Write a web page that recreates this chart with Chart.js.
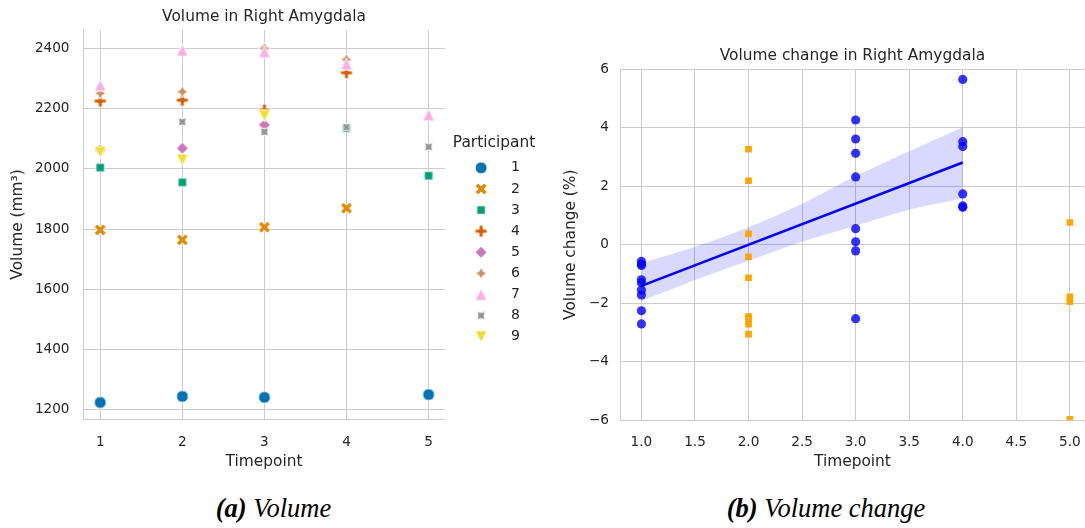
<!DOCTYPE html>
<html lang="en">
<head>
  <meta charset="UTF-8">
  <script src="https://cdn.jsdelivr.net/npm/chart.js"></script>
  <title>Right Amygdala</title>
  <style>
    body { margin: 0; background: #fff; width: 1085px; height: 528px; position: relative; overflow: hidden; }
    #volChart { position: absolute; left: 0; top: 0; }
    #changeChart { position: absolute; left: 545px; top: 0; }
    .caption { position: absolute; top: 495px; width: 400px; text-align: center;
      font-family: "Liberation Serif", "Times New Roman", serif; font-style: italic;
      font-size: 26.5px; line-height: 26px; color: #000; }
  </style>
</head>
<body>

  <canvas id="volChart" width="545" height="480"></canvas>
  <canvas id="changeChart" width="550" height="480"></canvas>
  <div class="caption" style="left:73.5px"><b>(a)</b> Volume</div>
  <div class="caption" style="left:626px"><b>(b)</b> Volume change</div>

  <script>
    // ---- (a) volume per participant, null = no scan at that timepoint
    const timepoints = [1, 2, 3, 4, 5];
    const participants = ['1', '2', '3', '4', '5', '6', '7', '8', '9'];
    const volP1 = [1224, 1244, 1241, null, 1250];
    const volP2 = [1797, 1764, 1806, 1869, null];
    const volP3 = [2004, 1955, null, 2135, 1977];
    const volP4 = [2225, 2228, 2195, 2319, null];
    const volP5 = [2063, 2068, 2146, null, null];
    const volP6 = [2251, 2256, 2400, 2363, null];
    const volP7 = [2278, 2394, 2389, 2348, 2179];
    const volP8 = [null, 2156, 2123, 2138, 2073];
    const volP9 = [2055, 2029, 2176, null, null];
    const volTicksX = [1, 2, 3, 4, 5];
    const volTicksY = [1200, 1400, 1600, 1800, 2000, 2200, 2400];

    // ---- (b) volume change (%)
    const blueT1 = [-0.57, -0.66, -0.71, -1.2, -1.3, -1.55, -1.72, -2.26, -2.71];
    const blueT3 = [4.27, 3.62, 3.13, 2.32, 0.55, 0.10, -0.21, -2.53];
    const blueT4 = [5.66, 3.53, 3.36, 1.74, 1.33, 1.28];
    const orangeT2 = [3.27, 2.19, 0.37, -0.41, -1.13, -2.46, -2.55, -2.72, -3.06];
    const orangeT5 = [0.76, -1.78, -1.95, -5.98];
    const ciX = [1, 1.5, 2, 2.5, 3, 3.5, 4];
    const ciUpper = [-0.63, -0.07, 0.6, 1.4, 2.35, 3.2, 4.02];
    const ciLower = [-1.93, -1.21, -0.55, 0.1, 0.65, 1.2, 1.58];
    const changeTicksX = [1, 1.5, 2, 2.5, 3, 3.5, 4, 4.5, 5];
    const changeTicksY = [-6, -4, -2, 0, 2, 4, 6];

    const ink = '#262626';
    const gridCol = '#cccccc';
    const labelFont = { family: 'DejaVu Sans', size: 15.4 };
    const tickFont = { family: 'DejaVu Sans', size: 13.6 };
    const palette = ['#0173b2', '#de8f05', '#029e73', '#d55e00', '#cc78bc', '#ca9161', '#fbafe4', '#949494', '#ece133'];

    // seaborn style markers drawn to small canvases
    function star4(start) {
      const pts = [];
      for (let k = 0; k < 8; k++) {
        const a = (start + k * 45) * Math.PI / 180;
        const rr = k % 2 ? 0.5 : 1;
        pts.push([rr * Math.cos(a), rr * Math.sin(a)]);
      }
      return pts;
    }
    const shapes = {
      X: [[-0.5, -1], [0, -0.5], [0.5, -1], [1, -0.5], [0.5, 0], [1, 0.5], [0.5, 1], [0, 0.5], [-0.5, 1], [-1, 0.5], [-0.5, 0], [-1, -0.5]],
      square: [[-0.707, -0.707], [0.707, -0.707], [0.707, 0.707], [-0.707, 0.707]],
      plus: [[-1/3, -1], [1/3, -1], [1/3, -1/3], [1, -1/3], [1, 1/3], [1/3, 1/3], [1/3, 1], [-1/3, 1], [-1/3, 1/3], [-1, 1/3], [-1, -1/3], [-1/3, -1/3]],
      diamond: [[0, -1], [1, 0], [0, 1], [-1, 0]],
      star: star4(-90),
      up: [[0, -1], [1, 1], [-1, 1]],
      starRot: star4(-45),
      down: [[0, 1], [1, -1], [-1, -1]]
    };
    const markerNames = ['circle', 'X', 'square', 'plus', 'diamond', 'star', 'up', 'starRot', 'down'];

    function makeMarker(shape, color) {
      const r = 6, size = 16;
      const c = document.createElement('canvas');
      c.width = size; c.height = size;
      const ctx = c.getContext('2d');
      ctx.translate(size / 2, size / 2);
      ctx.beginPath();
      if (shape === 'circle') {
        ctx.arc(0, 0, r, 0, Math.PI * 2);
      } else {
        shapes[shape].forEach(([x, y], i) => i ? ctx.lineTo(x * r, y * r) : ctx.moveTo(x * r, y * r));
        ctx.closePath();
      }
      ctx.fillStyle = color;
      ctx.fill();
      ctx.strokeStyle = '#ffffff';
      ctx.lineWidth = 1;
      ctx.stroke();
      return c;
    }

    function toPoints(xs, ys) {
      const out = [];
      xs.forEach((x, i) => { if (ys[i] !== null) out.push({ x: x, y: ys[i] }); });
      return out;
    }
    function atX(x, ys) { return ys.map(y => ({ x: x, y: y })); }

    const volumes = [volP1, volP2, volP3, volP4, volP5, volP6, volP7, volP8, volP9];

    new Chart(document.getElementById('volChart'), {
      type: 'scatter',
      data: {
        datasets: participants.map((p, i) => ({
          label: p,
          data: toPoints(timepoints, volumes[i]),
          pointStyle: makeMarker(markerNames[i], palette[i]),
          pointRadius: 6,
          pointHoverRadius: 6,
          order: participants.length - i   // later participants on top
        }))
      },
      options: {
        responsive: false,
        animation: false,
        layout: { padding: { right: 8 } },
        plugins: {
          title: {
            display: true, text: 'Volume in Right Amygdala', fullSize: false,
            font: { family: 'DejaVu Sans', size: 15.4, weight: 'normal' }, color: ink,
            padding: { top: 7.8, bottom: 3.7 }
          },
          legend: {
            position: 'right',
            align: 'center',
            title: { display: true, text: 'Participant', color: ink, font: labelFont, padding: { top: 6, bottom: 0 } },
            labels: {
              usePointStyle: true, pointStyleWidth: 46, padding: 7.1,
              color: ink, font: { family: 'DejaVu Sans', size: 14 },
              // en space keeps the legend box wide enough for its title
              generateLabels: chart => Chart.defaults.plugins.legend.labels.generateLabels(chart)
                .map(l => Object.assign(l, { text: l.text + '\u2002' })),
              sort: (a, b) => a.datasetIndex - b.datasetIndex
            }
          },
          tooltip: { enabled: false }
        },
        scales: {
          x: {
            type: 'linear', min: 0.79, max: 5.2,
            afterFit: s => { s.height = 61; },
            afterBuildTicks: s => { s.ticks = volTicksX.map(v => ({ value: v })); },
            grid: { color: gridCol, drawTicks: false },
            border: { color: gridCol },
            ticks: { padding: 15, color: ink, font: tickFont, callback: v => String(v) },
            title: { display: true, text: 'Timepoint', color: ink, font: labelFont, padding: { top: 0, bottom: 8.8 } }
          },
          y: {
            type: 'linear', min: 1169, max: 2461,
            afterFit: s => { s.width = 83; },
            afterBuildTicks: s => { s.ticks = volTicksY.map(v => ({ value: v })); },
            grid: { color: gridCol, drawTicks: false },
            border: { color: gridCol },
            ticks: { padding: 13.5, color: ink, font: tickFont, callback: v => String(v) },
            title: { display: true, text: 'Volume (mm³)', color: ink, font: labelFont, padding: { top: 8.8, bottom: 0 } }
          },
          gap: {
            type: 'linear', position: 'right', display: true,
            grid: { display: false }, border: { display: false }, ticks: { display: false },
            afterFit: s => { s.width = 6; }
          }
        }
      }
    });

    // least squares fit on the participant-change points
    const fitPts = atX(1, blueT1).concat(atX(3, blueT3), atX(4, blueT4));
    const mx = fitPts.reduce((a, p) => a + p.x, 0) / fitPts.length;
    const my = fitPts.reduce((a, p) => a + p.y, 0) / fitPts.length;
    let sxy = 0, sxx = 0;
    fitPts.forEach(p => { sxy += (p.x - mx) * (p.y - my); sxx += (p.x - mx) * (p.x - mx); });
    const slope = sxy / sxx;
    const icept = my - slope * mx;
    const fitX = [Math.min(...fitPts.map(p => p.x)), Math.max(...fitPts.map(p => p.x))];

    new Chart(document.getElementById('changeChart'), {
      type: 'scatter',
      data: {
        datasets: [
          {
            label: 'orange',
            data: atX(2, orangeT2).concat(atX(5, orangeT5)),
            pointStyle: 'rect', pointRadius: 4.7, pointHoverRadius: 4.7,
            backgroundColor: '#ffa500', borderWidth: 0,
            order: 0
          },
          {
            type: 'line', label: 'fit',
            data: fitX.map(x => ({ x: x, y: icept + slope * x })),
            borderColor: '#0000ff', borderWidth: 2.6, pointRadius: 0, fill: false,
            order: 1
          },
          {
            type: 'line', label: 'ciUpper',
            data: ciX.map((x, i) => ({ x: x, y: ciUpper[i] })),
            borderColor: 'transparent', pointRadius: 0, fill: false,
            tension: 0.4, cubicInterpolationMode: 'monotone',
            order: 3
          },
          {
            type: 'line', label: 'ciLower',
            data: ciX.map((x, i) => ({ x: x, y: ciLower[i] })),
            borderColor: 'transparent', pointRadius: 0,
            fill: '-1', backgroundColor: 'rgba(0, 0, 255, 0.15)',
            tension: 0.4, cubicInterpolationMode: 'monotone',
            order: 2
          },
          {
            label: 'blue',
            data: fitPts,
            pointStyle: 'circle', pointRadius: 4.6, pointHoverRadius: 4.6,
            backgroundColor: 'rgba(0, 0, 255, 0.8)', borderWidth: 0,
            order: 4
          }
        ]
      },
      options: {
        responsive: false,
        animation: false,
        plugins: {
          title: {
            display: true, text: 'Volume change in Right Amygdala', fullSize: false,
            font: { family: 'DejaVu Sans', size: 15.4, weight: 'normal' }, color: ink,
            padding: { top: 46.8, bottom: 4.2 }
          },
          legend: { display: false },
          tooltip: { enabled: false }
        },
        scales: {
          x: {
            type: 'linear', min: 0.8, max: 5.14,
            afterFit: s => { s.height = 60; },
            afterBuildTicks: s => { s.ticks = changeTicksX.map(v => ({ value: v })); },
            grid: { color: gridCol, drawTicks: false },
            border: { color: gridCol },
            ticks: { padding: 14, color: ink, font: tickFont, callback: v => Number(v).toFixed(1) },
            title: { display: true, text: 'Timepoint', color: ink, font: labelFont, padding: { top: 0, bottom: 8.8 } }
          },
          y: {
            type: 'linear', min: -6, max: 6,
            afterFit: s => { s.width = 75; },
            afterBuildTicks: s => { s.ticks = changeTicksY.map(v => ({ value: v })); },
            grid: { color: gridCol, drawTicks: false },
            border: { color: gridCol },
            ticks: { padding: 11, color: ink, font: tickFont, callback: v => String(v).replace('-', '\u2212') },
            title: { display: true, text: 'Volume change (%)', color: ink, font: labelFont, padding: { top: 17, bottom: 0 } }
          }
        }
      }
    });
  </script>

</body>
</html>
